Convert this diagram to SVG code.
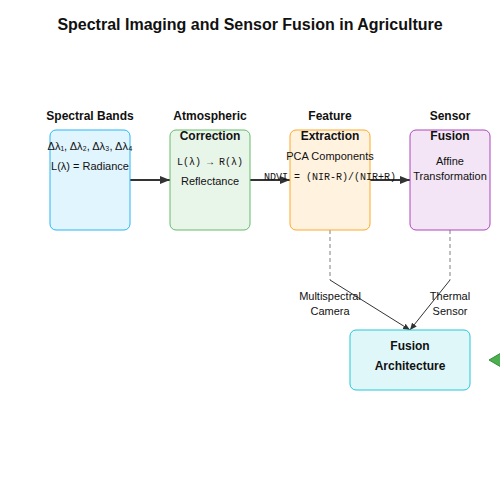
<svg xmlns="http://www.w3.org/2000/svg" width="500" height="500" viewBox="0 0 500 500">
<defs>
<marker id="arr" markerWidth="10" markerHeight="8" refX="10" refY="4" orient="auto" markerUnits="userSpaceOnUse">
<polygon points="0,0 10,4 0,8" fill="#333"/>
</marker>
<marker id="arrs" markerWidth="7" markerHeight="6" refX="7" refY="3" orient="auto" markerUnits="userSpaceOnUse">
<polygon points="0,0 7,3 0,6" fill="#333"/>
</marker>
<style>
text{font-family:"Liberation Sans",Arial,sans-serif;text-anchor:middle;fill:#111}
.t{font-size:16px;font-weight:bold}
.h{font-size:12px;font-weight:bold}
.s{font-size:11px}
.m{font-family:"Liberation Mono","DejaVu Sans Mono",monospace;font-size:10px}
.flow{stroke:#333;stroke-width:2;fill:none}
.dash{stroke:#aaa;stroke-width:1.5;stroke-dasharray:4,3;fill:none}
.thin{stroke:#333;stroke-width:1;fill:none}
</style>
</defs>
<text class="t" x="250" y="30">Spectral Imaging and Sensor Fusion in Agriculture</text>
<g id="connectors">
<line class="flow" x1="130" y1="180" x2="170" y2="180" marker-end="url(#arr)"/>
<line class="flow" x1="250" y1="180" x2="290" y2="180" marker-end="url(#arr)"/>
<line class="flow" x1="370" y1="180" x2="410" y2="180" marker-end="url(#arr)"/>
<line class="dash" x1="330" y1="230" x2="330" y2="280"/>
<line class="dash" x1="450" y1="230" x2="450" y2="280"/>
<line class="thin" x1="330" y1="280" x2="410" y2="330" marker-end="url(#arrs)"/>
<line class="thin" x1="450" y1="280" x2="410" y2="330" marker-end="url(#arrs)"/>
<polygon points="489,360 501,353 501,367" fill="#4caf50" stroke="#388e3c" stroke-width="1"/>
</g>
<g id="spectral-bands">
<rect x="50" y="130" width="80" height="100" rx="6" fill="#e1f5fe" stroke="#29b6f6"/>
<text class="h" x="90" y="120">Spectral Bands</text>
<text class="s" x="90" y="150">Δλ₁, Δλ₂, Δλ₃, Δλ₄</text>
<text class="s" x="90" y="170">L(λ) = Radiance</text>
</g>
<g id="atmospheric-correction">
<rect x="170" y="130" width="80" height="100" rx="6" fill="#e8f5e9" stroke="#66bb6a"/>
<text class="h" x="210" y="120">Atmospheric</text>
<text class="h" x="210" y="140">Correction</text>
<text class="m" x="210" y="165">L(λ) → R(λ)</text>
<text class="s" x="210" y="185">Reflectance</text>
</g>
<g id="feature-extraction">
<rect x="290" y="130" width="80" height="100" rx="6" fill="#fff3e0" stroke="#ffa726"/>
<text class="h" x="330" y="120">Feature</text>
<text class="h" x="330" y="140">Extraction</text>
<text class="s" x="330" y="160">PCA Components</text>
<text class="m" x="330" y="180">NDVI = (NIR-R)/(NIR+R)</text>
</g>
<g id="sensor-fusion">
<rect x="410" y="130" width="80" height="100" rx="6" fill="#f3e5f5" stroke="#ab47bc"/>
<text class="h" x="450" y="120">Sensor</text>
<text class="h" x="450" y="140">Fusion</text>
<text class="s" x="450" y="165">Affine</text>
<text class="s" x="450" y="180">Transformation</text>
</g>
<g id="labels">
<text class="s" x="330" y="300">Multispectral</text>
<text class="s" x="330" y="315">Camera</text>
<text class="s" x="450" y="300">Thermal</text>
<text class="s" x="450" y="315">Sensor</text>
</g>
<g id="fusion-architecture">
<rect x="350" y="330" width="120" height="60" rx="6" fill="#e0f7fa" stroke="#26c6da"/>
<text class="h" x="410" y="350">Fusion</text>
<text class="h" x="410" y="370">Architecture</text>
</g>
</svg>
